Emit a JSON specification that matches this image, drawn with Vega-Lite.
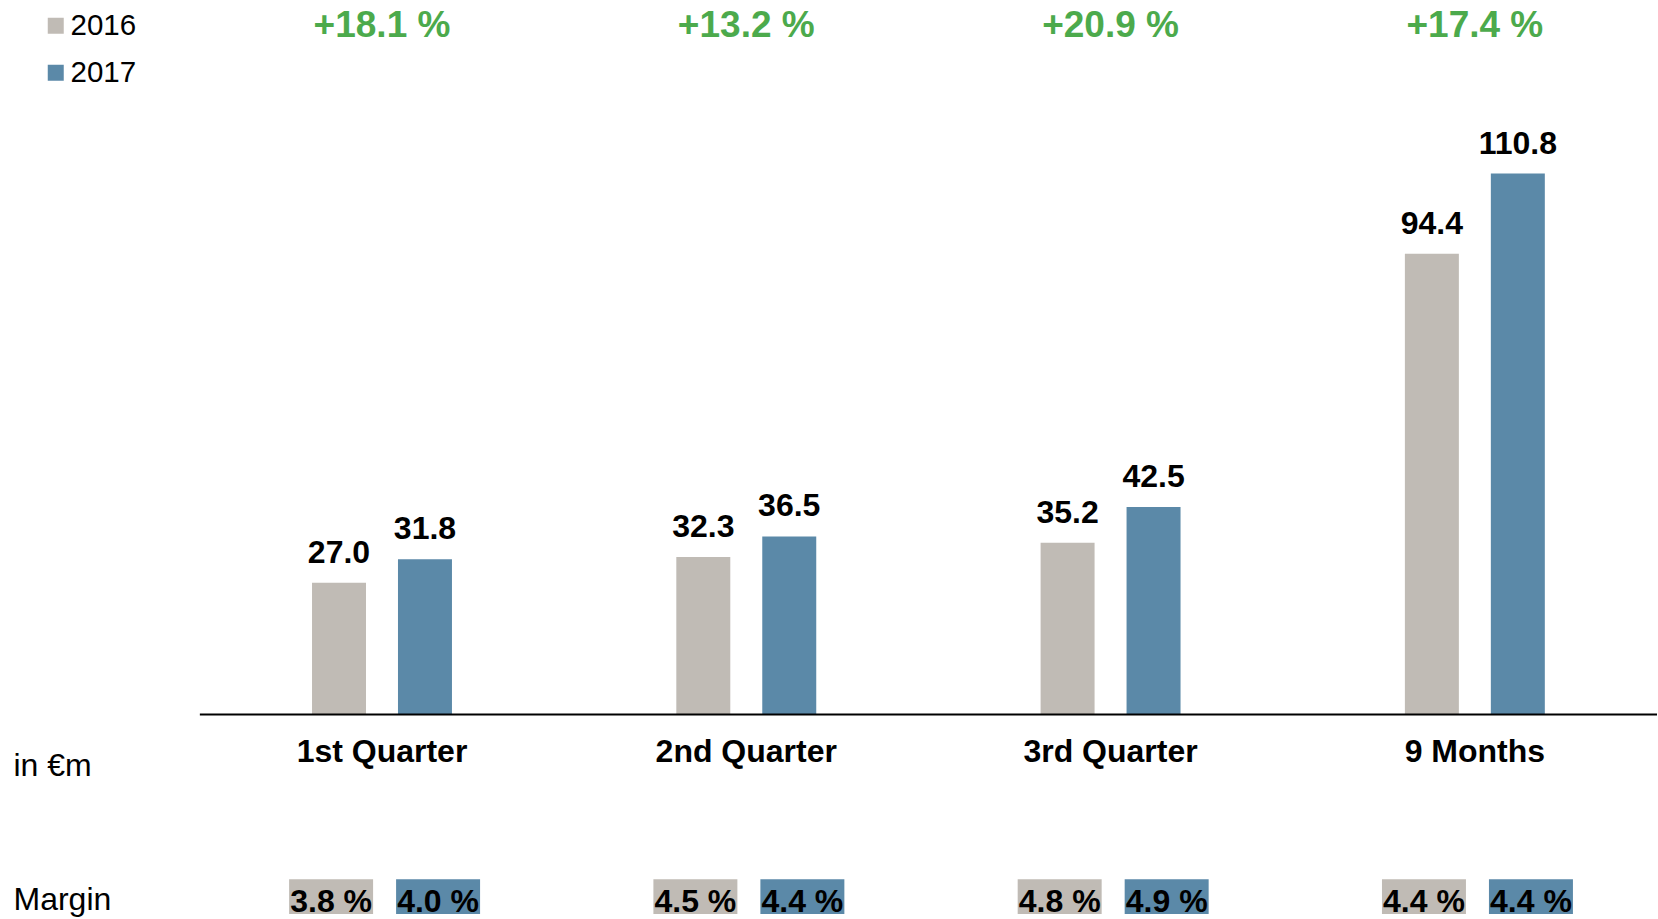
{
  "$schema": "https://vega.github.io/schema/vega-lite/v6.json",
  "width": 1658,
  "height": 919,
  "padding": 0,
  "autosize": {"type": "fit", "contains": "padding"},
  "config": {
    "view": {"stroke": null},
    "font": "Liberation Sans",
    "text": {"font": "Liberation Sans"}
  },
  "datasets": {
    "main": [
      {"period": "1st Quarter", "year": "2016", "value": 27.0, "margin": "3.8 %"},
      {"period": "1st Quarter", "year": "2017", "value": 31.8, "margin": "4.0 %"},
      {"period": "2nd Quarter", "year": "2016", "value": 32.3, "margin": "4.5 %"},
      {"period": "2nd Quarter", "year": "2017", "value": 36.5, "margin": "4.4 %"},
      {"period": "3rd Quarter", "year": "2016", "value": 35.2, "margin": "4.8 %"},
      {"period": "3rd Quarter", "year": "2017", "value": 42.5, "margin": "4.9 %"},
      {"period": "9 Months", "year": "2016", "value": 94.4, "margin": "4.4 %"},
      {"period": "9 Months", "year": "2017", "value": 110.8, "margin": "4.4 %"}
    ],
    "growth": [
      {"period": "1st Quarter", "growth": "+18.1 %"},
      {"period": "2nd Quarter", "growth": "+13.2 %"},
      {"period": "3rd Quarter", "growth": "+20.9 %"},
      {"period": "9 Months", "growth": "+17.4 %"}
    ]
  },
  "resolve": {"scale": {"xOffset": "independent"}},
  "layer": [
    {
      "data": {"name": "main"},
      "mark": {"type": "bar"},
      "encoding": {
        "x": {
          "field": "period", "type": "nominal", "sort": null,
          "scale": {"domain": ["1st Quarter", "2nd Quarter", "3rd Quarter", "9 Months"], "paddingInner": 0, "paddingOuter": 0.2743, "align": 1},
          "axis": null
        },
        "xOffset": {
          "field": "year", "type": "nominal",
          "scale": {"type": "band", "domain": ["_a", "2016", "2017", "_b"], "paddingInner": 0.372, "paddingOuter": 0.305}
        },
        "y": {
          "field": "value", "type": "quantitative",
          "scale": {"domain": [-40.83, 146.34], "nice": false, "zero": false},
          "axis": {
            "title": null, "orient": "left", "offset": -13, "domain": false, "grid": false,
            "ticks": false, "tickSize": 0, "labelPadding": 0, "labelAlign": "left",
            "labelBaseline": "alphabetic", "labelFontSize": 32, "labelColor": "#000000",
            "labelFont": "Liberation Sans", "labelFlush": false, "labelBound": false, "labelOverlap": false,
            "values": [-12.53, -39.82],
            "labelExpr": "datum.value < -20 ? 'Margin' : 'in €m'"
          }
        },
        "color": {
          "field": "year", "type": "nominal",
          "scale": {"domain": ["2016", "2017"], "range": ["#C0BBB5", "#5B89A8"]},
          "legend": {
            "title": null, "orient": "none", "legendX": 41, "legendY": 11, "padding": 0,
            "symbolType": "square", "symbolSize": 256, "symbolStrokeWidth": 0,
            "labelFontSize": 29.5, "labelFont": "Liberation Sans", "labelColor": "#000000",
            "labelOffset": 0, "rowPadding": 16, "direction": "vertical"
          }
        }
      }
    },
    {
      "data": {"name": "main"},
      "mark": {"type": "text", "baseline": "alphabetic", "dy": -20, "fontSize": 32, "fontWeight": "bold", "color": "#000000"},
      "encoding": {
        "x": {"field": "period", "type": "nominal", "sort": null, "axis": null},
        "xOffset": {
          "field": "year", "type": "nominal",
          "scale": {"type": "band", "domain": ["_a", "2016", "2017", "_b"], "paddingInner": 0.372, "paddingOuter": 0.305}
        },
        "y": {"field": "value", "type": "quantitative"},
        "text": {"field": "value", "type": "quantitative", "format": ".1f"}
      }
    },
    {
      "data": {"name": "main"},
      "mark": {"type": "bar"},
      "encoding": {
        "x": {"field": "period", "type": "nominal", "sort": null, "axis": null},
        "xOffset": {
          "field": "year", "type": "nominal",
          "scale": {"type": "band", "domain": ["2016", "2017"], "paddingInner": 0.215, "paddingOuter": 0.81, "align": 0.515}
        },
        "y": {"datum": -33.7, "type": "quantitative"},
        "y2": {"datum": -40.83},
        "color": {"field": "year", "type": "nominal"}
      }
    },
    {
      "data": {"name": "main"},
      "mark": {"type": "text", "baseline": "alphabetic", "fontSize": 32, "fontWeight": "bold", "color": "#000000"},
      "encoding": {
        "x": {"field": "period", "type": "nominal", "sort": null, "axis": null},
        "xOffset": {
          "field": "year", "type": "nominal",
          "scale": {"type": "band", "domain": ["2016", "2017"], "paddingInner": 0.215, "paddingOuter": 0.81, "align": 0.515}
        },
        "y": {"datum": -40.43, "type": "quantitative"},
        "text": {"field": "margin", "type": "nominal"}
      }
    },
    {
      "data": {"name": "growth"},
      "mark": {"type": "text", "baseline": "alphabetic", "fontSize": 37, "fontWeight": "bold", "color": "#4CAA4C"},
      "encoding": {
        "x": {"field": "period", "type": "nominal", "sort": null, "axis": null},
        "y": {"datum": 138.8, "type": "quantitative"},
        "text": {"field": "growth", "type": "nominal"}
      }
    },
    {
      "data": {"name": "growth"},
      "mark": {"type": "text", "baseline": "alphabetic", "fontSize": 32, "fontWeight": "bold", "color": "#000000"},
      "encoding": {
        "x": {"field": "period", "type": "nominal", "sort": null, "axis": null},
        "y": {"datum": -9.67, "type": "quantitative"},
        "text": {"field": "period", "type": "nominal"}
      }
    },
    {
      "data": {"values": [{"start": "1st Quarter"}]},
      "mark": {"type": "rule", "color": "#000000", "strokeWidth": 2},
      "encoding": {
        "x": {"field": "start", "type": "nominal", "bandPosition": 0, "axis": null},
        "x2": {"value": "width"},
        "y": {"datum": 0, "type": "quantitative"}
      }
    }
  ]
}
